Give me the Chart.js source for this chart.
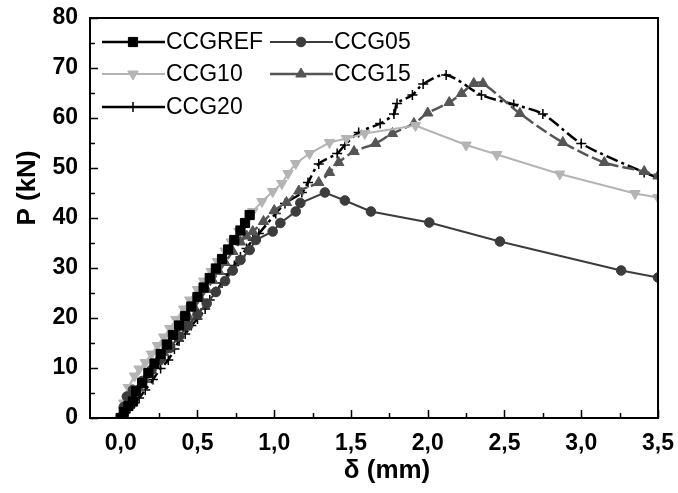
<!DOCTYPE html>
<html>
<head>
<meta charset="utf-8">
<script src="https://cdn.jsdelivr.net/npm/chart.js@4"></script>
<style>
  html, body { margin: 0; padding: 0; background: #fff; }
  #wrap { width: 678px; height: 493px; }
</style>
</head>
<body>
<div id="wrap"><canvas id="chart" width="678" height="493"></canvas></div>
<script>
// load (kN) vs deflection (mm)
const refX = [0, 0.02, 0.05, 0.08, 0.10, 0.14, 0.18, 0.22, 0.26, 0.30, 0.34, 0.38, 0.42, 0.46, 0.50, 0.54, 0.58, 0.62, 0.66, 0.70, 0.74, 0.78, 0.81, 0.84];
const refY = [0, 1.2, 2.4, 3.3, 5.3, 7.0, 9.0, 10.9, 12.8, 14.7, 16.6, 18.5, 20.4, 22.3, 24.2, 26.1, 28.0, 29.9, 31.8, 33.7, 35.6, 37.5, 39.0, 40.6];

const g05X = [0, 0.02, 0.04, 0.08, 0.14, 0.20, 0.26, 0.32, 0.38, 0.44, 0.50, 0.56, 0.62, 0.68, 0.73, 0.78, 0.84, 0.88, 0.99, 1.04, 1.14, 1.17, 1.33, 1.46, 1.63, 2.01, 2.47, 3.26, 3.5];
const g05Y = [0, 2.2, 4.3, 5.6, 7.4, 9.6, 11.8, 14.0, 16.3, 18.5, 20.7, 22.9, 25.2, 27.4, 29.5, 31.6, 33.6, 35.6, 37.3, 39.0, 41.3, 43.0, 45.1, 43.5, 41.3, 39.1, 35.3, 29.5, 28.1];

const g10X = [0, 0.02, 0.05, 0.09, 0.12, 0.16, 0.20, 0.24, 0.28, 0.32, 0.36, 0.41, 0.45, 0.50, 0.54, 0.59, 0.63, 0.68, 0.72, 0.77, 0.81, 0.86, 0.92, 0.99, 1.05, 1.09, 1.14, 1.23, 1.36, 1.47, 1.59, 1.92, 2.25, 2.45, 2.86, 3.35, 3.5];
const g10Y = [0, 3.0, 6.1, 8.4, 9.8, 11.1, 12.8, 14.5, 16.2, 17.9, 19.7, 21.8, 23.6, 25.7, 27.4, 29.3, 31.3, 33.4, 35.2, 37.3, 39.0, 41.3, 43.3, 45.3, 46.9, 48.9, 50.9, 52.9, 55.1, 55.9, 56.9, 58.5, 54.6, 52.7, 48.8, 44.9, 44.1];

const g15X = [0, 0.02, 0.05, 0.08, 0.12, 0.16, 0.20, 0.24, 0.28, 0.32, 0.36, 0.40, 0.44, 0.48, 0.52, 0.56, 0.60, 0.64, 0.68, 0.73, 0.78, 0.82, 0.86, 0.93, 1.00, 1.08, 1.16, 1.29, 1.36, 1.42, 1.52, 1.66, 1.77, 1.91, 2.00, 2.14, 2.22, 2.30, 2.36, 2.60, 2.88, 3.15, 3.41, 3.5];
const g15Y = [0, 1.5, 3.0, 4.4, 6.0, 7.7, 9.5, 11.3, 13.1, 14.9, 16.7, 18.5, 20.3, 22.1, 23.9, 25.7, 27.5, 29.3, 31.1, 33.3, 35.2, 36.4, 37.3, 39.3, 41.5, 43.1, 45.4, 47.1, 49.1, 51.1, 53.3, 54.9, 56.9, 58.9, 61.0, 63.1, 64.9, 66.9, 66.9, 60.9, 55.1, 51.1, 49.3, 48.4];

const g20X = [0, 0.03, 0.06, 0.09, 0.12, 0.16, 0.21, 0.26, 0.31, 0.35, 0.38, 0.42, 0.46, 0.50, 0.55, 0.58, 0.62, 0.66, 0.70, 0.74, 0.78, 0.82, 0.86, 0.90, 1.01, 1.07, 1.18, 1.22, 1.29, 1.41, 1.46, 1.55, 1.69, 1.78, 1.80, 1.90, 1.97, 2.12, 2.35, 2.56, 2.75, 3.00, 3.41, 3.5];
const g20Y = [0, 1.0, 2.0, 3.0, 4.0, 5.6, 7.7, 9.9, 11.6, 13.8, 15.4, 16.8, 18.5, 19.8, 21.8, 23.6, 25.3, 27.0, 28.8, 30.5, 32.2, 33.9, 35.6, 36.9, 40.9, 42.9, 45.1, 47.1, 50.8, 52.9, 54.6, 57.1, 58.9, 60.8, 62.9, 64.6, 66.8, 68.6, 64.6, 62.7, 60.8, 54.9, 49.1, 48.1];

const xTicks = [0, 0.5, 1.0, 1.5, 2.0, 2.5, 3.0, 3.5];
const yTicks = [0, 10, 20, 30, 40, 50, 60, 70, 80];

const pts = (xs, ys) => xs.map((x, i) => ({ x, y: ys[i] }));

const series = [
  { label: 'CCGREF', data: pts(refX, refY), color: '#000000', style: 'rect', radius: 6.5, rot: 0, dash: [], width: 2.5, tension: 0 },
  { label: 'CCG05', data: pts(g05X, g05Y), color: '#3c3c3c', style: 'circle', radius: 4.8, rot: 0, dash: [], width: 2, tension: 0 },
  { label: 'CCG10', data: pts(g10X, g10Y), color: '#b4b4b4', style: 'triangle', radius: 6, rot: 180, dash: [], width: 2, tension: 0 },
  { label: 'CCG15', data: pts(g15X, g15Y), color: '#555555', style: 'triangle', radius: 6, rot: 0, dash: [12, 4], width: 2.5, tension: 0.3 },
  { label: 'CCG20', data: pts(g20X, g20Y), color: '#000000', style: 'cross', radius: 5, rot: 0, dash: [12, 4, 3, 4], width: 2.5, tension: 0.3 }
];

const FONT = '"Liberation Sans", Arial, sans-serif';

// frame, inward ticks, axis titles and the in-plot legend
const decor = {
  id: 'decor',
  afterDraw(chart) {
    const { ctx, chartArea: a, scales: { x, y } } = chart;
    ctx.save();
    ctx.strokeStyle = '#000';
    ctx.lineWidth = 2;
    ctx.strokeRect(a.left, a.top, a.right - a.left, a.bottom - a.top);

    ctx.lineWidth = 1.5;
    ctx.beginPath();
    for (let v = 0; v <= 3.5001; v += 0.25) {
      const px = Math.round(x.getPixelForValue(v)) + 0.5;
      const len = Math.abs(v / 0.5 - Math.round(v / 0.5)) < 1e-6 ? 8 : 5;
      ctx.moveTo(px, a.bottom);
      ctx.lineTo(px, a.bottom - len);
    }
    for (let v = 0; v <= 80; v += 5) {
      const py = Math.round(y.getPixelForValue(v)) + 0.5;
      const len = v % 10 === 0 ? 8 : 5;
      ctx.moveTo(a.left, py);
      ctx.lineTo(a.left + len, py);
    }
    ctx.stroke();

    ctx.fillStyle = '#000';
    ctx.font = 'bold 26px ' + FONT;
    ctx.textAlign = 'center';
    ctx.textBaseline = 'middle';
    ctx.fillText('δ (mm)', 387, 471);
    ctx.save();
    ctx.translate(28, 188);
    ctx.rotate(-Math.PI / 2);
    ctx.fillText('P (kN)', 0, 0);
    ctx.restore();

    // legend
    const slots = [
      [a.left + 12, a.top + 24], [a.left + 180, a.top + 24],
      [a.left + 12, a.top + 56], [a.left + 180, a.top + 56],
      [a.left + 12, a.top + 89]
    ];
    ctx.font = '23px ' + FONT;
    ctx.textAlign = 'left';
    series.forEach((s, i) => {
      const [lx, ly] = slots[i];
      ctx.strokeStyle = s.color;
      ctx.fillStyle = s.color;
      ctx.lineWidth = s.width;
      ctx.setLineDash([]);
      ctx.beginPath();
      ctx.moveTo(lx, ly);
      ctx.lineTo(lx + 63, ly);
      ctx.stroke();
      ctx.lineWidth = s.style === 'cross' ? 1.5 : 1;
      Chart.helpers.drawPoint(ctx, { pointStyle: s.style, radius: s.radius, rotation: s.rot, borderWidth: ctx.lineWidth }, lx + 31, ly);
      ctx.fillStyle = '#000';
      ctx.fillText(s.label, lx + 64, ly + 1);
    });
    ctx.restore();
  }
};

new Chart(document.getElementById('chart'), {
  type: 'scatter',
  data: {
    datasets: series.map(s => ({
      label: s.label,
      data: s.data,
      showLine: true,
      borderColor: s.color,
      backgroundColor: s.color,
      borderWidth: s.width,
      borderDash: s.dash,
      tension: s.tension,
      pointStyle: s.style,
      pointRadius: s.radius,
      pointRotation: s.rot,
      pointBorderWidth: s.style === 'cross' ? 1.5 : 1,
      pointBorderColor: s.color,
      pointBackgroundColor: s.color
    }))
  },
  options: {
    responsive: false,
    animation: false,
    layout: { padding: { left: 0, top: 18, right: 19, bottom: 0 } },
    plugins: { legend: { display: false }, tooltip: { enabled: false } },
    scales: {
      x: {
        type: 'linear',
        min: -0.2,
        max: 3.5,
        grid: { display: false },
        border: { display: false },
        afterBuildTicks: scale => { scale.ticks = xTicks.map(v => ({ value: v })); },
        afterFit: scale => { scale.height = 75; },
        ticks: {
          color: '#000',
          padding: 4,
          maxRotation: 0,
          font: { family: FONT, size: 23, weight: 'bold' },
          callback: v => v.toFixed(1).replace('.', ',')
        }
      },
      y: {
        min: 0,
        max: 80,
        grid: { display: false },
        border: { display: false },
        afterBuildTicks: scale => { scale.ticks = yTicks.map(v => ({ value: v })); },
        afterFit: scale => { scale.width = 90; },
        ticks: {
          color: '#000',
          padding: 4,
          font: { family: FONT, size: 23, weight: 'bold' }
        }
      }
    }
  },
  plugins: [decor]
});
</script>
</body>
</html>
